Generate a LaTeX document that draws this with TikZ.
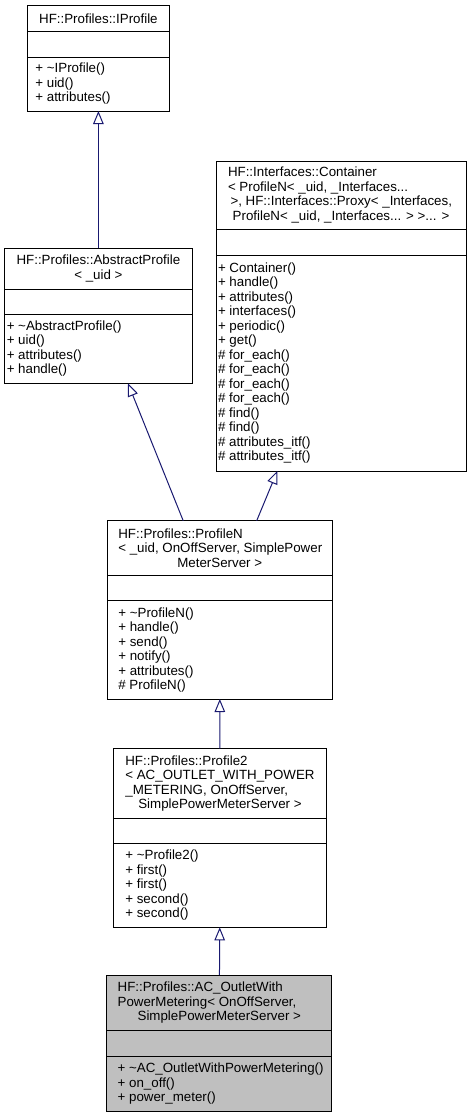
\documentclass[tikz,border=0pt]{standalone}
\usepackage{fontspec}
\setmainfont{Liberation Sans}
\usetikzlibrary{positioning,arrows.meta}
\definecolor{edgeblue}{HTML}{191970}
\newcommand{\doxfont}{\fontsize{13.33}{14.5}\selectfont}
\newcommand{\midline}[1]{\hbox to \hsize{\hss #1\hss}}
\tikzset{
clspart/.style = {draw, fill=white, rectangle, line width=1pt, inner ysep=0pt, outer sep=0pt, font=\doxfont},
clshead/.style = {clspart, align=center},
clslist/.style = {clspart, align=flush left},
current/.style = {fill=black!25},
inherit/.style = {->, draw=edgeblue, line width=1pt}
}

\begin{document}
\begin{tikzpicture}[x=1pt, y=-1pt, >={Triangle[open, length=13pt, width=10.5pt]}]
		\useasboundingbox (0,0) rectangle (471,1117);

		% HF::Profiles::IProfile
		\node [clshead, minimum width=142pt, minimum height=26pt, anchor=north] (iprofT) at (98.4,5.3) {HF::Profiles::IProfile};
		\node [clspart, minimum width=142pt, minimum height=25.7pt, below=0pt of iprofT] (iprofA) {};
		\node [clslist, text width=126pt, inner xsep=8pt, minimum height=54pt, below=0pt of iprofA] (iprofM)
			{+ \textasciitilde IProfile()\\+ uid()\\+ attributes()};

		% HF::Profiles::AbstractProfile
		\node [clshead, minimum width=187.3pt, minimum height=40.7pt, anchor=north] (abstrT) at (98.4,248.3)
			{HF::Profiles::AbstractProfile\\< \_uid >};
		\node [clspart, minimum width=187.3pt, minimum height=25pt, below=0pt of abstrT] (abstrA) {};
		\node [clslist, text width=183.3pt, inner xsep=2pt, minimum height=69.3pt, below=0pt of abstrA] (abstrM)
			{+ \textasciitilde AbstractProfile()\\+ uid()\\+ attributes()\\+ handle()};

		% HF::Interfaces::Container
		\node [clslist, text width=226pt, inner xsep=12pt, minimum height=68.3pt, anchor=north] (contT) at (341,161)
			{HF::Interfaces::Container\\
			 \mbox{< ProfileN< \_uid, \_Interfaces...}\\
			 \mbox{\hspace*{2.5pt}>, HF::Interfaces::Proxy< \_Interfaces,}\\
			 \midline{ProfileN< \_uid, \_Interfaces... > >... >}};
		\node [clspart, minimum width=250pt, minimum height=26pt, below=0pt of contT] (contA) {};
		\node [clslist, text width=246pt, inner xsep=2pt, minimum height=215.7pt, below=0pt of contA] (contM)
			{+ Container()\\+ handle()\\+ attributes()\\+ interfaces()\\+ periodic()\\+ get()\\
			 \# for\_each()\\\# for\_each()\\\# for\_each()\\\# for\_each()\\\# find()\\\# find()\\
			 \# attributes\_itf()\\\# attributes\_itf()};

		% HF::Profiles::ProfileN
		\node [clslist, text width=202.7pt, inner xsep=11pt, minimum height=54.6pt, anchor=north] (profnT) at (219.7,520.7)
			{HF::Profiles::ProfileN\\
			 \mbox{< \_uid, OnOffServer, SimplePower}\\
			 \midline{MeterServer >}};
		\node [clspart, minimum width=224.7pt, minimum height=25.4pt, below=0pt of profnT] (profnA) {};
		\node [clslist, text width=202.7pt, inner xsep=11pt, minimum height=98.3pt, below=0pt of profnA] (profnM)
			{+ \textasciitilde ProfileN()\\+ handle()\\+ send()\\+ notify()\\+ attributes()\\\# ProfileN()};

		% HF::Profiles::Profile2
		\node [clslist, text width=189.3pt, inner xsep=12pt, minimum height=69.6pt, anchor=north] (prof2T) at (220,748.7)
			{HF::Profiles::Profile2\\
			 \mbox{< AC\_OUTLET\_WITH\_POWER}\\
			 \mbox{\_METERING, OnOffServer,}\\
			 \midline{SimplePowerMeterServer >}};
		\node [clspart, minimum width=213.3pt, minimum height=25pt, below=0pt of prof2T] (prof2A) {};
		\node [clslist, text width=189.3pt, inner xsep=12pt, minimum height=84pt, below=0pt of prof2A] (prof2M)
			{+ \textasciitilde Profile2()\\+ first()\\+ first()\\+ second()\\+ second()};

		% HF::Profiles::AC_OutletWithPowerMetering
		\node [clslist, current, text width=203.3pt, inner xsep=11pt, minimum height=55.7pt, anchor=north] (outletT) at (219.3,975)
			{HF::Profiles::AC\_OutletWith\\
			 \mbox{PowerMetering< OnOffServer,}\\
			 \midline{SimplePowerMeterServer >}};
		\node [clspart, current, minimum width=225.3pt, minimum height=25.3pt, below=0pt of outletT] (outletA) {};
		\node [clslist, current, text width=203.3pt, inner xsep=11pt, minimum height=55.7pt, below=0pt of outletA] (outletM)
			{\mbox{+ \textasciitilde AC\_OutletWithPowerMetering()}\\+ on\_off()\\+ power\_meter()};

		% inheritance
		\draw [inherit] (abstrT) -- (iprofM);
		\draw [inherit] ([xshift=-36.5pt]profnT.north) -- ([xshift=29.6pt]abstrM.south);
		\draw [inherit] ([xshift=37pt]profnT.north) -- ([xshift=-63.7pt]contM.south);
		\draw [inherit] (prof2T) -- (profnM);
		\draw [inherit] (outletT) -- (prof2M);
\end{tikzpicture}
\end{document}
